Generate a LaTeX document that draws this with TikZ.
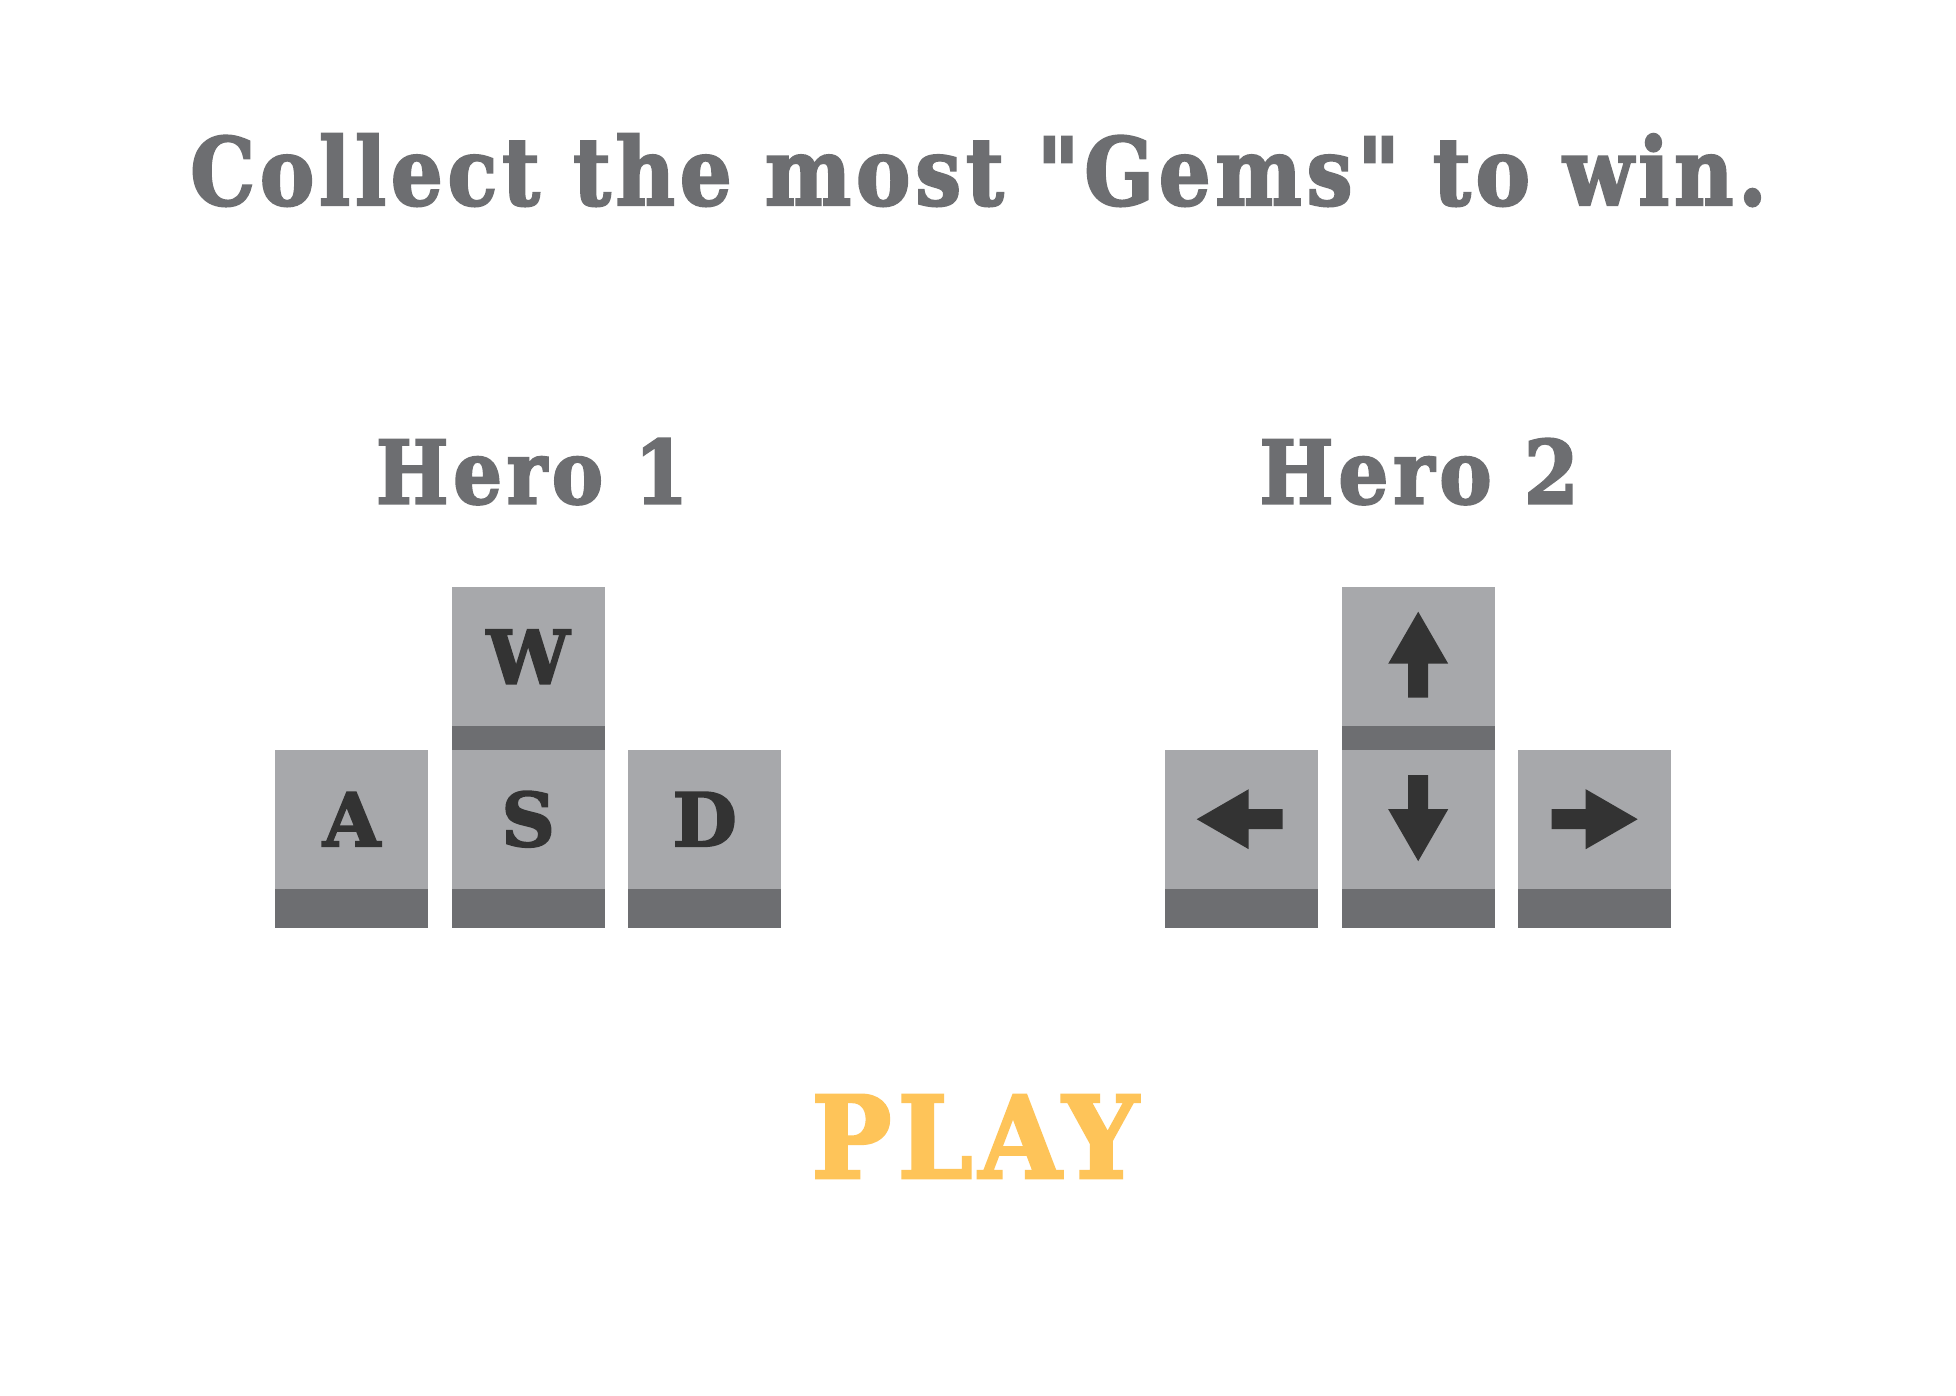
\documentclass[tikz,border=0pt]{standalone}
\usepackage{fontspec}
\usepackage{graphicx}
\newfontfamily\slab{DejaVu Serif}[Ligatures=TeXOff, BoldFeatures={FakeBold=2.6, LetterSpace=6}]
\definecolor{keylight}{HTML}{A7A8AB}
\definecolor{keydark}{HTML}{6D6E71}
\definecolor{keytext}{HTML}{333333}
\definecolor{headgray}{HTML}{6D6E71}
\definecolor{playyellow}{HTML}{FEC459}
\tikzset{
  keycap/.style={rectangle, inner sep=0pt, minimum width=153pt, minimum height=139pt,
                 fill=keylight, anchor=north west},
  keyband/.style={fill=keydark},
  keylabel/.style={anchor=center, inner sep=0pt, text=keytext,
                   font=\slab\bfseries\fontsize{74}{74}\selectfont},
  headline/.style={anchor=base, inner sep=0pt, text=headgray, font=\slab\bfseries},
  playlabel/.style={anchor=base, inner sep=0pt, text=playyellow, font=\slab\bfseries},
  arrowglyph/.style={fill=keytext},
}
\begin{document}
\begin{tikzpicture}[x=1pt,y=-1pt]
\useasboundingbox (0,0) rectangle (1956,1396);
\fill[white] (0,0) rectangle (1956,1396);

% texts
\node[headline] (title) at (978.5,205) {\resizebox{1576pt}{71pt}{Collect the most "Gems" to win.}};
\node[headline] (hero1) at (532,503.5) {\resizebox{312pt}{65pt}{Hero 1}};
\node[headline] (hero2) at (1419,503.5) {\resizebox{319pt}{65pt}{Hero 2}};
\node[playlabel] (play) at (975,1178) {\resizebox{327pt}{83pt}{PLAY}};

% Hero 1 keys
\node[keycap] (keyW) at (451.5,587) {};
\fill[keyband] (keyW.south west) rectangle ++(153,39);
\node[keycap] (keyA) at (275,749.5) {};
\fill[keyband] (keyA.south west) rectangle ++(153,39);
\node[keycap] (keyS) at (451.5,749.5) {};
\fill[keyband] (keyS.south west) rectangle ++(153,39);
\node[keycap] (keyD) at (628,749.5) {};
\fill[keyband] (keyD.south west) rectangle ++(153,39);

\node[keylabel] (labW) at (keyW.center) {W};
\node[keylabel] (labA) at (keyA.center) {A};
\node[keylabel] (labS) at (keyS.center) {S};
\node[keylabel] (labD) at (keyD.center) {D};

% Hero 2 keys
\node[keycap] (keyUp) at (1341.5,587) {};
\fill[keyband] (keyUp.south west) rectangle ++(153,39);
\node[keycap] (keyLeft) at (1165,749.5) {};
\fill[keyband] (keyLeft.south west) rectangle ++(153,39);
\node[keycap] (keyDown) at (1341.5,749.5) {};
\fill[keyband] (keyDown.south west) rectangle ++(153,39);
\node[keycap] (keyRight) at (1518,749.5) {};
\fill[keyband] (keyRight.south west) rectangle ++(153,39);

% arrows
\fill[arrowglyph, shift={(keyUp.center)}]
  (0,-45) -- (30,7) -- (10,7) -- (10,41) -- (-10,41) -- (-10,7) -- (-30,7) -- cycle;
\fill[arrowglyph, shift={(keyDown.center)}]
  (0,42) -- (30,-10) -- (10,-10) -- (10,-44) -- (-10,-44) -- (-10,-10) -- (-30,-10) -- cycle;
\fill[arrowglyph, shift={(keyLeft.center)}]
  (-45,0) -- (7,-30) -- (7,-10) -- (41,-10) -- (41,10) -- (7,10) -- (7,30) -- cycle;
\fill[arrowglyph, shift={(keyRight.center)}]
  (43,0) -- (-9,-30) -- (-9,-10) -- (-43,-10) -- (-43,10) -- (-9,10) -- (-9,30) -- cycle;
\end{tikzpicture}
\end{document}
